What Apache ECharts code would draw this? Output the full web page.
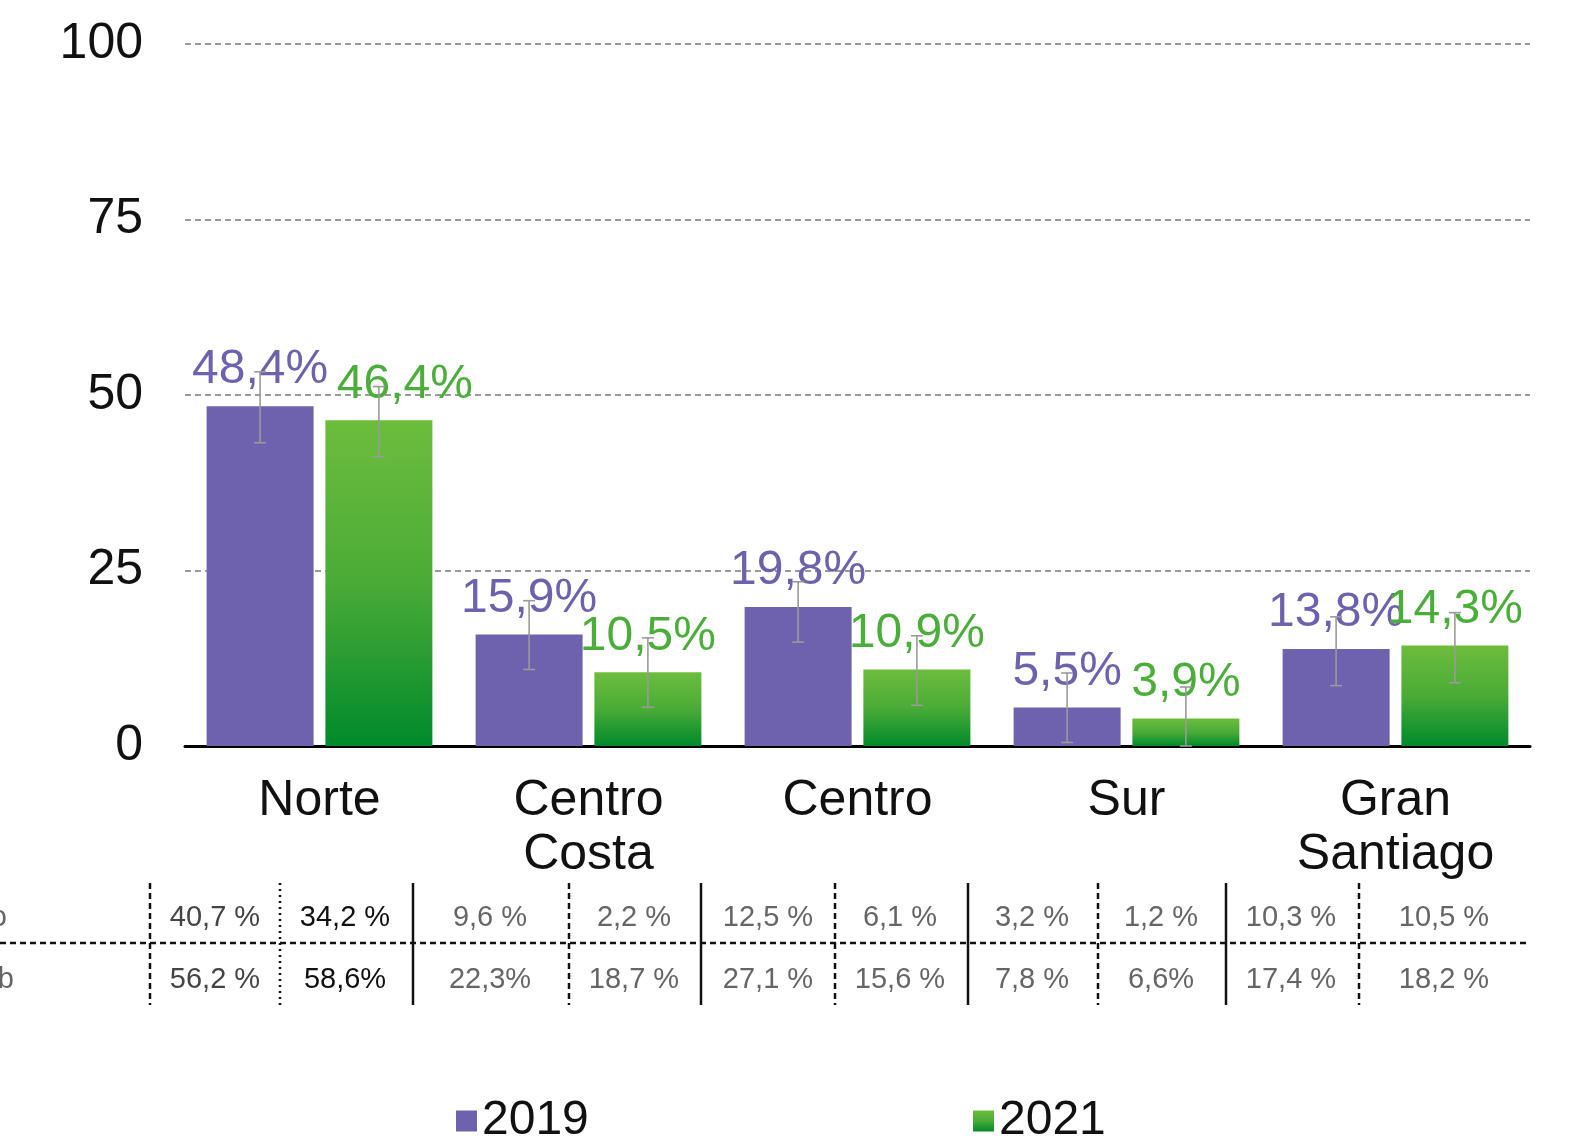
<!DOCTYPE html>
<html>
<head>
<meta charset="utf-8">
<script src="https://cdn.jsdelivr.net/npm/echarts@6/dist/echarts.min.js"></script>
<style>
html, body { margin: 0; padding: 0; background: #fff; }
#chart { width: 1573px; height: 1139px; }
</style>
</head>
<body>
<div id="chart"></div>
<script>
// datos
const categories = ['Norte', 'Centro\nCosta', 'Centro', 'Sur', 'Gran\nSantiago'];
const values2019 = [48.4, 15.9, 19.8, 5.5, 13.8];
const values2021 = [46.4, 10.5, 10.9, 3.9, 14.3];
// intervalos (barras de error)
const err2019Low = [43.2, 10.9, 14.8, 0.5, 8.6];
const err2019High = [53.3, 20.7, 23.4, 10.4, 18.4];
const err2021Low = [41.2, 5.5, 5.8, 0, 9.0];
const err2021High = [51.2, 15.4, 15.7, 8.4, 19.0];
const yTicks = [0, 25, 50, 75, 100];
// tabla inferior
const tableRow1 = ['40,7 %', '34,2 %', '9,6 %', '2,2 %', '12,5 %', '6,1 %', '3,2 %', '1,2 %', '10,3 %', '10,5 %'];
const tableRow2 = ['56,2 %', '58,6%', '22,3%', '18,7 %', '27,1 %', '15,6 %', '7,8 %', '6,6%', '17,4 %', '18,2 %'];

const FONT = 'Liberation Sans';
const PURPLE = '#6e62ae';
const GREEN_TOP = '#6dbd3d';
const GREEN_BOT = '#008a2b';
const BAR_W = 107;
const BAR_GAP = 0.11;

function pct(v) {
    return v.toFixed(1).replace('.', ',') + '%';
}

function errSeries(name, low, high, offset) {
    return {
        name: name,
        type: 'custom',
        z: 5,
        silent: true,
        renderItem: function (params, api) {
            const a = api.coord([api.value(0), api.value(1)]);
            const b = api.coord([api.value(0), api.value(2)]);
            const x = a[0] + offset;
            const st = { stroke: '#9a9a9a', lineWidth: 1.6 };
            return {
                type: 'group',
                children: [
                    { type: 'line', shape: { x1: x, y1: a[1], x2: x, y2: b[1] }, style: st },
                    { type: 'line', shape: { x1: x - 6, y1: a[1], x2: x + 6, y2: a[1] }, style: st },
                    { type: 'line', shape: { x1: x - 6, y1: b[1], x2: x + 6, y2: b[1] }, style: st }
                ]
            };
        },
        data: categories.map((c, i) => [i, low[i], high[i]])
    };
}

const off = (BAR_W + BAR_W * BAR_GAP) / 2;

// tabla: posiciones de columnas y separadores
const colCenters = [215, 345, 490, 634, 768, 900, 1032, 1161, 1291, 1444];
const colColors = ['#444', '#111', '#666', '#666', '#666', '#666', '#666', '#666', '#666', '#666'];
const seps = [
    [150, 'dash'], [280, 'dot'], [413, 'solid'], [569, 'dash'], [701, 'solid'],
    [835, 'dash'], [968, 'solid'], [1098, 'dash'], [1226, 'solid'], [1359, 'dash']
];

const graphics = [];
seps.forEach(function (s) {
    const dash = s[1] === 'dash' ? [6, 4] : (s[1] === 'dot' ? [2, 4] : null);
    graphics.push({
        type: 'line',
        shape: { x1: s[0], y1: 883, x2: s[0], y2: 1005 },
        style: { stroke: '#111', lineWidth: 2.5, lineDash: dash }
    });
});
graphics.push({
    type: 'line',
    shape: { x1: 0, y1: 943, x2: 1530, y2: 943 },
    style: { stroke: '#111', lineWidth: 2.5, lineDash: [6, 4] }
});
const tFont = '29px "' + FONT + '"';
colCenters.forEach(function (cx, i) {
    graphics.push({
        type: 'text', x: cx, y: 918,
        style: { text: tableRow1[i], font: tFont, fill: colColors[i], align: 'center', verticalAlign: 'middle' }
    });
    graphics.push({
        type: 'text', x: cx, y: 980,
        style: { text: tableRow2[i], font: tFont, fill: colColors[i], align: 'center', verticalAlign: 'middle' }
    });
});
graphics.push({ type: 'text', x: 7, y: 918, style: { text: 'o', font: tFont, fill: '#666', align: 'right', verticalAlign: 'middle' } });
graphics.push({ type: 'text', x: 14, y: 980, style: { text: 'b', font: tFont, fill: '#666', align: 'right', verticalAlign: 'middle' } });

const greenGrad = new echarts.graphic.LinearGradient(0, 0, 0, 1, [
    { offset: 0, color: GREEN_TOP },
    { offset: 0.5, color: '#4aab37' },
    { offset: 1, color: GREEN_BOT }
]);

// la etiqueta de Norte 2021 está desplazada a la derecha en el original
const data2021 = values2021.map(function (v, i) {
    return i === 0 ? { value: v, label: { offset: [26, 0] } } : v;
});

const legendText = { fontSize: 48, color: '#111', fontFamily: FONT };

const option = {
    backgroundColor: '#fff',
    animation: false,
    textStyle: { fontFamily: FONT },
    grid: { left: 185, right: 43, top: 44, bottom: 393 },
    legend: [
        {
            data: [{ name: '2019', icon: 'rect' }], left: 451, top: 1092,
            itemWidth: 21, itemHeight: 21, itemGap: 10,
            textStyle: legendText
        },
        {
            data: [{ name: '2021', icon: 'rect' }], left: 968, top: 1092,
            itemWidth: 21, itemHeight: 21, itemGap: 10,
            textStyle: legendText
        }
    ],
    xAxis: {
        type: 'category',
        data: categories,
        axisLine: { show: true, lineStyle: { color: '#000', width: 3 } },
        axisTick: { show: false },
        axisLabel: { fontSize: 50, color: '#111', margin: 28, lineHeight: 54, fontFamily: FONT }
    },
    yAxis: {
        type: 'value',
        min: yTicks[0],
        max: yTicks[yTicks.length - 1],
        interval: 25,
        axisLine: { show: false },
        axisTick: { show: false },
        axisLabel: { fontSize: 50, color: '#111', margin: 42, fontFamily: FONT },
        splitLine: { show: true, lineStyle: { color: '#9a9a9a', width: 2, type: [6, 4] } }
    },
    series: [
        {
            name: '2019',
            type: 'bar',
            barWidth: BAR_W,
            barGap: (BAR_GAP * 100) + '%',
            itemStyle: { color: PURPLE },
            label: {
                show: true, position: 'top', distance: 12,
                fontSize: 48, color: PURPLE, fontFamily: FONT,
                formatter: p => pct(p.value)
            },
            data: values2019
        },
        {
            name: '2021',
            type: 'bar',
            barWidth: BAR_W,
            itemStyle: { color: greenGrad },
            label: {
                show: true, position: 'top', distance: 12,
                fontSize: 48, color: '#4cae3a', fontFamily: FONT,
                formatter: p => pct(p.value)
            },
            data: data2021
        },
        errSeries('e2019', err2019Low, err2019High, -off),
        errSeries('e2021', err2021Low, err2021High, off)
    ],
    graphic: graphics
};

const chart = echarts.init(document.getElementById('chart'));
chart.setOption(option);
</script>
</body>
</html>
